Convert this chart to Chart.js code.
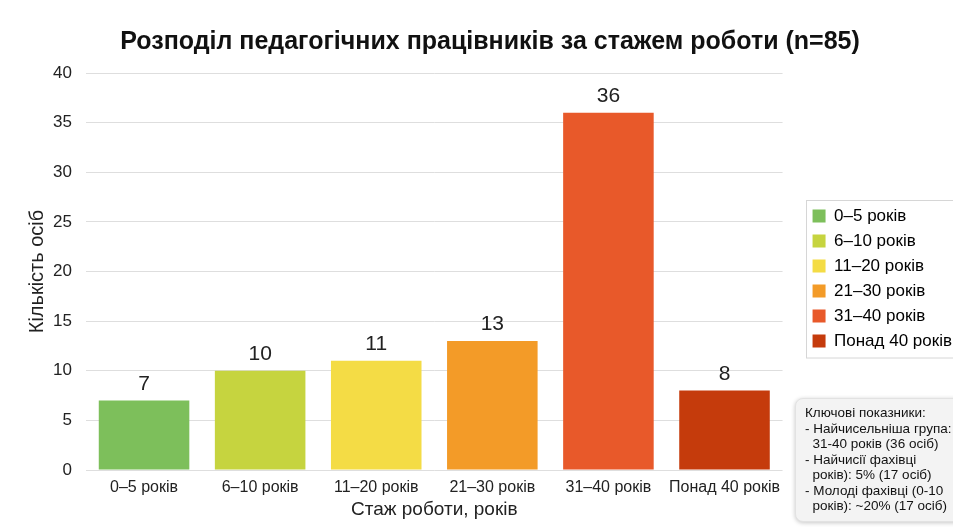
<!DOCTYPE html>
<html lang="uk">
<head>
    <meta charset="UTF-8">
    <title>Розподіл педагогічних працівників за стажем роботи</title>
    <script src="https://cdn.jsdelivr.net/npm/chart.js"></script>
    <style>
        body {
            margin: 0;
            background: #fff;
            font-family: "Liberation Sans", Arial, sans-serif;
        }

        #wrap {
            position: relative;
            width: 953px;
            height: 527px;
            overflow: hidden;
        }

        #info {
            position: absolute;
            left: 795px;
            top: 398px;
            width: 170px;
            height: 124px;
            background: #f3f3f3;
            border: 1px solid #e2e2e2;
            border-radius: 8px;
            box-shadow: 0 1px 4px rgba(0, 0, 0, 0.22);
            padding: 6px 0 0 9px;
            box-sizing: border-box;
            font-size: 13.5px;
            line-height: 15.5px;
            color: #111;
            white-space: pre;
        }
    </style>
</head>
<body>
    <div id="wrap">
        <canvas id="stazhChart" width="953" height="527"></canvas>
        <div id="info"></div>
    </div>

    <script>
        const categories = ['0–5 років', '6–10 років', '11–20 років', '21–30 років', '31–40 років', 'Понад 40 років'];
        const counts = [7, 10, 11, 13, 36, 8];
        const barColors = ['#7dbf5b', '#c6d43f', '#f4dc45', '#f39b28', '#e8592a', '#c53b0c'];
        const yTicks = [0, 5, 10, 15, 20, 25, 30, 35, 40];
        const infoLines = [
            'Ключові показники:',
            '- Найчисельніша група:',
            '  31-40 років (36 осіб)',
            '- Найчисії фахівці',
            '  років): 5% (17 осіб)',
            '- Молоді фахівці (0-10',
            '  років): ~20% (17 осіб)'
        ];

        document.getElementById('info').textContent = infoLines.join('\n');

        const FONT = '"Liberation Sans", Arial, sans-serif';

        // value labels above each bar
        const valueLabels = {
            id: 'valueLabels',
            afterDatasetsDraw(chart) {
                const ctx = chart.ctx;
                const meta = chart.getDatasetMeta(0);
                ctx.save();
                ctx.font = '21px ' + FONT;
                ctx.fillStyle = '#222';
                ctx.textAlign = 'center';
                ctx.textBaseline = 'bottom';
                meta.data.forEach((bar, i) => {
                    ctx.fillText(counts[i], bar.x, bar.y - 6);
                });
                ctx.restore();
            }
        };

        // nudge the legend right/down so the plot ends where the original does,
        // shift the title a bit right, then frame the legend items
        const legendTweak = {
            id: 'legendTweak',
            afterLayout(chart) {
                const lg = chart.legend;
                lg.left += 22;
                lg.right += 22;
                lg.top += 32;
                const tb = chart.titleBlock;
                tb.left += 8;
                tb.right += 8;
            },
            afterDraw(chart) {
                const boxes = chart.legend.legendHitBoxes;
                if (!boxes.length) return;
                const first = boxes[0];
                const last = boxes[boxes.length - 1];
                const ctx = chart.ctx;
                ctx.save();
                ctx.strokeStyle = '#d6d6d6';
                ctx.lineWidth = 1;
                const x = Math.round(first.left - 7) + 0.5;
                const y = Math.round(first.top - 8) + 0.5;
                const h = Math.round(last.top + last.height + 8) - y;
                ctx.strokeRect(x, y, 200, h);
                ctx.restore();
            }
        };

        const ctx = document.getElementById('stazhChart').getContext('2d');
        new Chart(ctx, {
            type: 'bar',
            data: {
                labels: categories,
                datasets: [{
                    data: counts,
                    backgroundColor: barColors,
                    borderWidth: 0,
                    categoryPercentage: 1.0,
                    barPercentage: 0.78
                }]
            },
            options: {
                responsive: false,
                animation: false,
                layout: { padding: { left: 24, right: 13, bottom: 2 } },
                plugins: {
                    title: {
                        display: true,
                        text: 'Розподіл педагогічних працівників за стажем роботи (n=85)',
                        color: '#111',
                        font: { family: FONT, size: 25, weight: 'bold' },
                        padding: { top: 27, bottom: 16 }
                    },
                    legend: {
                        position: 'right',
                        labels: {
                            color: '#222',
                            font: { family: FONT, size: 17 },
                            boxWidth: 13,
                            boxHeight: 13,
                            padding: 8,
                            generateLabels() {
                                return categories.map((c, i) => ({
                                    text: c,
                                    fillStyle: barColors[i],
                                    strokeStyle: barColors[i],
                                    lineWidth: 0,
                                    index: i
                                }));
                            }
                        },
                        onClick() {}
                    },
                    tooltip: { enabled: false }
                },
                scales: {
                    x: {
                        grid: { display: false },
                        border: { display: false },
                        ticks: {
                            color: '#222',
                            font: { family: FONT, size: 16 },
                            maxRotation: 0,
                            padding: 0
                        },
                        title: {
                            display: true,
                            text: 'Стаж роботи, років',
                            color: '#222',
                            font: { family: FONT, size: 19 },
                            padding: { top: 1 }
                        }
                    },
                    y: {
                        min: 0,
                        max: 40,
                        afterBuildTicks(axis) {
                            axis.ticks = yTicks.map(v => ({ value: v }));
                        },
                        afterFit(axis) {
                            axis.width = 62;
                        },
                        grid: { color: '#dedede', drawTicks: false },
                        border: { display: false },
                        ticks: {
                            color: '#222',
                            font: { family: FONT, size: 17 },
                            padding: 14
                        },
                        title: {
                            display: true,
                            text: 'Кількість осіб',
                            color: '#222',
                            font: { family: FONT, size: 20 },
                            padding: { top: 1, bottom: 3 }
                        }
                    }
                }
            },
            plugins: [valueLabels, legendTweak]
        });
    </script>
</body>
</html>
